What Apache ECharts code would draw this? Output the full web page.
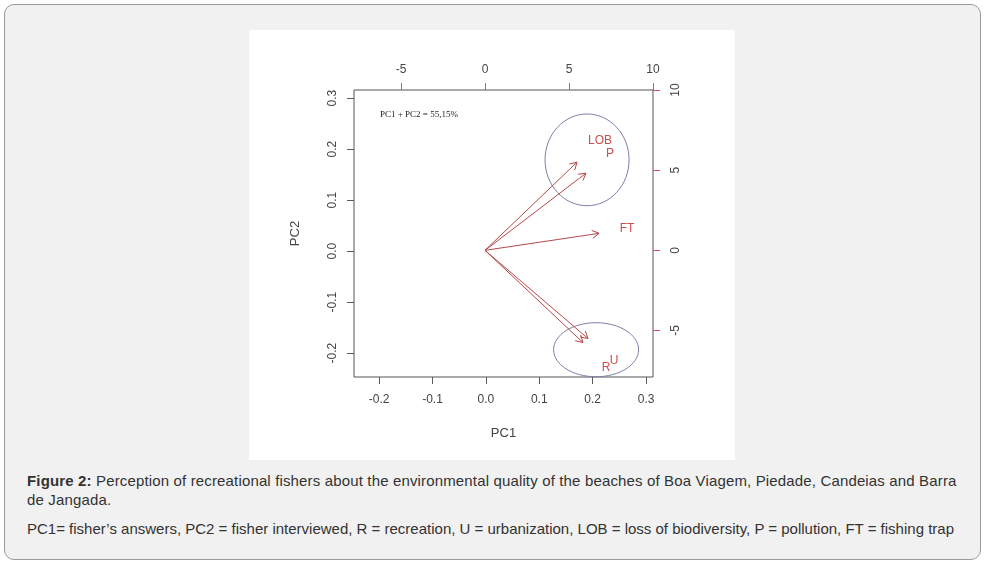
<!DOCTYPE html>
<html>
<head>
<meta charset="utf-8">
<script src="https://cdn.jsdelivr.net/npm/echarts@6/dist/echarts.min.js"></script>
<style>
  html, body { margin: 0; padding: 0; background: #fff; }
  #page { position: relative; width: 987px; height: 564px; overflow: hidden; }
  #frame {
    position: absolute; left: 4px; top: 4px; width: 975px; height: 554px;
    background: #f1f1f1; border: 1px solid #9a9a9a; border-radius: 10px;
  }
  #chart { position: absolute; left: 249px; top: 30px; width: 486px; height: 430px; background: #fff; }
  .cap { position: absolute; left: 27px; font-family: 'Liberation Sans', Arial, sans-serif; font-size: 15px; color: #333; line-height: 19px; white-space: nowrap; }
</style>
</head>
<body>
<div id="page">
  <div id="frame"></div>
  <div id="chart"></div>
  <div class="cap" style="top:471px; letter-spacing:0.15px;"><b>Figure 2:</b> Perception of recreational fishers about the environmental quality of the beaches of Boa Viagem, Piedade, Candeias and Barra<br>de Jangada.</div>
  <div class="cap" style="top:519px;">PC1= fisher’s answers, PC2 = fisher interviewed, R = recreation, U = urbanization, LOB = loss of biodiversity, P = pollution, FT = fishing trap</div>
</div>
<script>
// loadings (top / right axes)
var varNames = ['LOB', 'P', 'FT', 'R', 'U'];
var arrowX = [5.48, 6.01, 6.79, 5.83, 6.13];
var arrowY = [5.5, 4.81, 1.06, -5.75, -5.5];
var labelX = [6.85, 7.44, 8.45, 7.2, 7.68];
var labelY = [6.81, 6.0, 1.34, -7.35, -6.9];

// group ellipses (PC1 / PC2 axes)
var ellCX = [0.1895, 0.2064];
var ellCY = [0.179, -0.1935];
var ellRX = [0.0787, 0.0796];
var ellRY = [0.090, 0.053];

var pcTicks = [-0.2, -0.1, 0, 0.1, 0.2, 0.3];
var loadTicks = [-5, 0, 5, 10];

var RED = '#b5484a';
var LABEL_RED = '#c94f4c';
var BLUE = '#7d80a6';
var AXIS = '#5a5a5a';
var FONT = "'Liberation Sans', Arial, sans-serif";

var chart = echarts.init(document.getElementById('chart'), null, { renderer: 'canvas' });

function pcAxis(pos, extra) {
  var ax = {
    type: 'value',
    position: pos,
    axisLine: { show: false, onZero: false },
    axisTick: { show: true, length: 7, lineStyle: { color: AXIS }, customValues: pcTicks },
    splitLine: { show: false }
  };
  return Object.assign(ax, extra);
}

function loadAxis(pos, extra) {
  var ax = {
    type: 'value',
    position: pos,
    axisLine: { show: false, onZero: false },
    axisTick: { show: true, length: 7, lineStyle: { color: '#d0545a' }, customValues: loadTicks },
    splitLine: { show: false }
  };
  return Object.assign(ax, extra);
}

function fmt1(v) { return v.toFixed(1); }

var arrowData = arrowX.map(function (x, i) { return [x, arrowY[i]]; });
var labelData = labelX.map(function (x, i) { return [x, labelY[i], varNames[i]]; });
var ellData = ellCX.map(function (x, i) { return [x, ellCY[i], ellRX[i], ellRY[i]]; });

function renderArrow(params, api) {
  var o = api.coord([0, 0]);
  var t = api.coord([api.value(0), api.value(1)]);
  var a = Math.atan2(t[1] - o[1], t[0] - o[0]);
  var h = 8, s = Math.PI / 6;
  var p1 = [t[0] - h * Math.cos(a - s), t[1] - h * Math.sin(a - s)];
  var p2 = [t[0] - h * Math.cos(a + s), t[1] - h * Math.sin(a + s)];
  return {
    type: 'group',
    children: [
      { type: 'line', shape: { x1: o[0], y1: o[1], x2: t[0], y2: t[1] }, style: { stroke: RED, lineWidth: 1 } },
      { type: 'polyline', shape: { points: [p1, t, p2] }, style: { stroke: RED, fill: null, lineWidth: 1 } }
    ]
  };
}

function renderLabel(params, api) {
  var p = api.coord([api.value(0), api.value(1)]);
  return {
    type: 'text', x: p[0], y: p[1],
    style: { text: labelData[params.dataIndex][2], fill: LABEL_RED, font: '12px ' + FONT, align: 'center', verticalAlign: 'middle' }
  };
}

function renderEllipse(params, api) {
  var c = api.coord([api.value(0), api.value(1)]);
  var sz = api.size([api.value(2), api.value(3)]);
  return {
    type: 'ellipse',
    shape: { cx: c[0], cy: c[1], rx: sz[0], ry: sz[1] },
    style: { stroke: BLUE, fill: null, lineWidth: 1 }
  };
}

chart.setOption({
  animation: false,
  backgroundColor: '#fff',
  grid: { left: 105, top: 60, width: 299, height: 287, show: true, borderColor: '#555', borderWidth: 1, backgroundColor: 'transparent' },
  xAxis: [
    pcAxis('bottom', {
      min: -0.247, max: 0.313,
      name: 'PC1', nameLocation: 'middle', nameGap: 50,
      nameTextStyle: { color: '#444', fontSize: 13, fontFamily: FONT },
      axisLabel: { color: '#444', fontSize: 12, fontFamily: FONT, margin: 17, customValues: pcTicks, formatter: fmt1 }
    }),
    loadAxis('top', {
      min: -7.8, max: 10,
      axisLabel: { color: '#444', fontSize: 12, fontFamily: FONT, margin: 14, customValues: loadTicks }
    })
  ],
  yAxis: [
    pcAxis('left', {
      min: -0.247, max: 0.316,
      name: 'PC2', nameLocation: 'middle', nameGap: 52, nameRotate: 90,
      nameTextStyle: { color: '#444', fontSize: 13, fontFamily: FONT },
      axisLabel: { color: '#444', fontSize: 12, fontFamily: FONT, margin: 15, rotate: 90, customValues: pcTicks, formatter: fmt1 }
    }),
    loadAxis('right', {
      min: -7.9, max: 10,
      axisLabel: { color: '#444', fontSize: 12, fontFamily: FONT, margin: 17, rotate: 90, customValues: loadTicks }
    })
  ],
  graphic: [
    { type: 'text', left: 131, top: 80, style: { text: 'PC1 + PC2 = 55,15%', fill: '#222', font: '9px "Liberation Serif", "DejaVu Serif", serif' } }
  ],
  series: [
    { type: 'custom', name: 'groups', xAxisIndex: 0, yAxisIndex: 0, data: ellData, renderItem: renderEllipse, clip: false, silent: true },
    { type: 'custom', name: 'arrows', xAxisIndex: 1, yAxisIndex: 1, data: arrowData, renderItem: renderArrow, silent: true },
    { type: 'custom', name: 'labels', xAxisIndex: 1, yAxisIndex: 1, data: labelData, renderItem: renderLabel, silent: true }
  ]
});
</script>
</body>
</html>
